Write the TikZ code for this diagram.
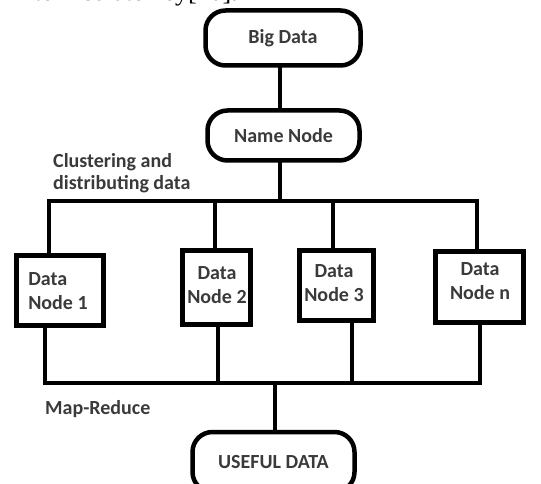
\documentclass[tikz,border=0pt]{standalone}
\usepackage{fontspec}
\setmainfont{Carlito}
\newfontfamily\serifbody{Liberation Serif}
\definecolor{inktext}{HTML}{3A3A3A}
\begin{document}
\begin{tikzpicture}[x=1pt,y=-1pt,
  wire/.style={line width=4.5pt, line join=miter, line cap=rect},
  pill/.style={draw, line width=4.5pt, rounded corners=20pt, inner sep=0pt,
    font=\bfseries\fontsize{20}{24}\selectfont, text=inktext},
  dbox/.style={draw, line width=4.5pt, inner sep=0pt},
  dtext/.style={inner sep=0pt, align=center,
    font=\bfseries\fontsize{20}{24}\selectfont, text=inktext},
  lbl/.style={inner sep=0pt, align=left, text=inktext,
    font=\bfseries\fontsize{20}{22}\selectfont}]
\useasboundingbox (0,0) rectangle (541,484);
\clip (0,0) rectangle (541,484);

% tail of the preceding body text line
\node[anchor=base east, inner sep=0pt, font=\serifbody\fontsize{26}{28}\selectfont]
  (bodytail) at (238,0.3) {intermediate key[10].};

% top of the flow
\node[pill, minimum width=155pt, minimum height=55pt] (big) at (283,38) {Big Data};
\node[pill, minimum width=152pt, minimum height=50pt] (name) at (283.5,135.5) {Name Node};

% data nodes: frame plus its two-line caption
\node[dbox, minimum width=87pt, minimum height=70pt] (d1) at (60,290.5) {};
\node[dtext, align=left] (d1t) at (58,291) {Data\\Node 1};
\node[dbox, minimum width=68pt, minimum height=74pt] (d2) at (216.5,287.5) {};
\node[dtext] (d2t) at (217,285) {Data\\Node 2};
\node[dbox, minimum width=74pt, minimum height=70pt] (d3) at (336.5,285.5) {};
\node[dtext] (d3t) at (334,283) {Data\\Node 3};
\node[dbox, minimum width=88pt, minimum height=71pt] (dn) at (479.5,287) {};
\node[dtext] (dnt) at (480,281) {Data\\Node n};

% result
\node[pill, minimum width=162pt, minimum height=60pt] (useful) at (273.5,462) {USEFUL DATA};

% labels
\node[lbl, anchor=north west] (clus) at (53,153) {Clustering and\\distributing data};
\node[lbl, anchor=north west] (mapred) at (45,400) {Map-Reduce};

% distribution bus
\coordinate (t1) at (49,201);
\coordinate (t2) at (215,201);
\coordinate (t3) at (333,201);
\coordinate (tn) at (477,201);
\coordinate (tm) at (280,201);
% collection bus
\coordinate (b1) at (45,383);
\coordinate (b2) at (218,383);
\coordinate (b3) at (352,383);
\coordinate (bn) at (480,383);
\coordinate (bm) at (275,383);

\draw[wire] (big.south -| tm) -- (name.north -| tm);
\draw[wire] (name.south -| tm) -- (tm);
\draw[wire] (d1.north -| t1) -- (t1) -- (tn) -- (dn.north -| tn);
\draw[wire] (t2) -- (d2.north -| t2);
\draw[wire] (t3) -- (d3.north -| t3);

\draw[wire] (d1.south -| b1) -- (b1) -- (bn) -- (dn.south -| bn);
\draw[wire] (d2.south -| b2) -- (b2);
\draw[wire] (d3.south -| b3) -- (b3);
\draw[wire] (bm) -- (useful.north -| bm);
\end{tikzpicture}
\end{document}
